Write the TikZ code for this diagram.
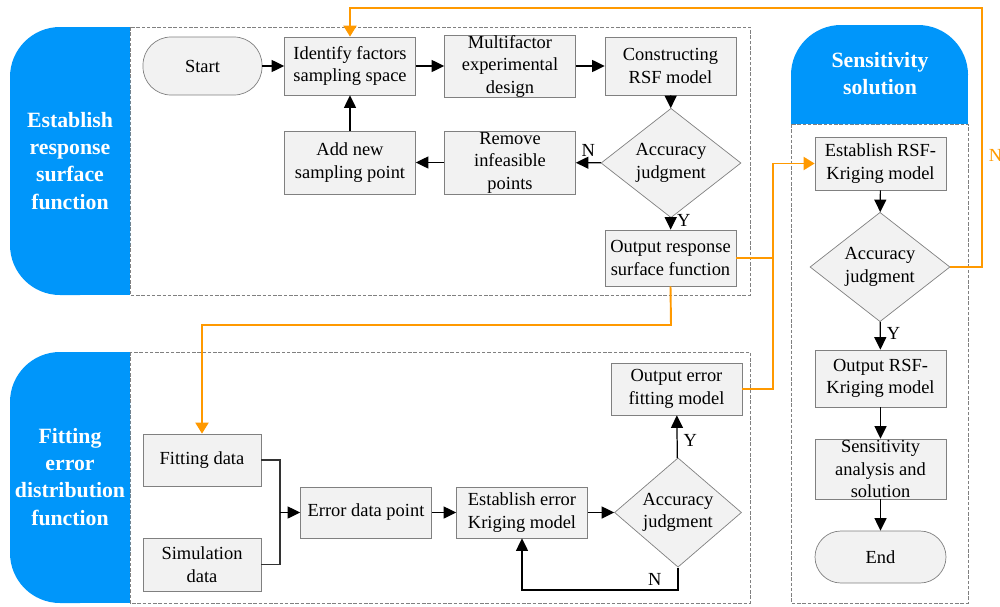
\documentclass[tikz,border=0pt]{standalone}
\usepackage{fontspec}
\setmainfont{Liberation Serif}
\usepackage{xcolor}
\usetikzlibrary{calc, arrows.meta, positioning, shapes}

\definecolor{tabblue}{RGB}{0,150,250}
\definecolor{lineorange}{RGB}{255,153,0}
\definecolor{boxfill}{RGB}{242,242,242}

\begin{document}
\begin{tikzpicture}[x=0.2mm, y=-0.2mm, >=latex, font=\fontsize{10.5}{12.8}\selectfont]
		\tikzstyle{box} = [draw=gray, fill=boxfill, rectangle, align=center, inner sep=0pt, minimum width=26.2mm, minimum height=11.6mm]
		\tikzstyle{term} = [box, rounded corners=5.2mm]
		\tikzstyle{judge} = [draw=gray, fill=boxfill, diamond, align=center, inner sep=0pt, minimum width=28mm, minimum height=17.6mm]
		\tikzstyle{panel} = [draw=gray, dash pattern=on 2pt off 1pt, line width=0.4pt]
		\tikzstyle{tabtext} = [text=white, align=center, font=\fontsize{12.4}{15.4}\selectfont\bfseries]
		\tikzstyle{arrow} = [line width=0.7pt, ->, >={Triangle[length=2.5mm, width=2.4mm]}]
		\tikzstyle{link} = [line width=0.7pt, draw=black!80]
		\tikzstyle{flow} = [lineorange, line width=1.1pt]
		\tikzstyle{flowarrow} = [flow, ->, >={Triangle[length=2.2mm, width=2.6mm]}]
		
		\useasboundingbox (0, 0) rectangle (1000, 607);
		
		% panels and tabs
		\draw[panel] (130, 27) rectangle (750, 295);
		\draw[panel] (130, 352) rectangle (750, 603);
		\draw[panel] (791, 124) rectangle (968, 603);
		\fill[tabblue, rounded corners=10mm] (10, 27) rectangle (130, 295);
		\fill[tabblue] (70, 27) rectangle (130, 295);
		\fill[tabblue, rounded corners=10mm] (10, 352) rectangle (130, 603);
		\fill[tabblue] (70, 352) rectangle (130, 603);
		\fill[tabblue, rounded corners=10mm] (791, 25) rectangle (968, 124);
		\fill[tabblue] (791, 75) rectangle (968, 124);
		\node[tabtext] at (70, 161) (tab1) {Establish\\response\\surface\\function};
		\node[tabtext] at (70, 477) (tab2) {Fitting\\error\\distribution\\function};
		\node[tabtext] at (880, 74) (tab3) {Sensitivity\\solution};
		
		% response surface
		\node[term, minimum width=23.8mm, rounded corners=5.6mm] at (202.5, 66) (start) {Start};
		\node[box] at (350, 66) (ident) {Identify factors\\sampling space};
		\node[box] at (510, 66) (multi) {Multifactor\\experimental\\design};
		\node[box] at (670.5, 66) (rsf) {Constructing\\RSF model};
		\node[judge] at (671, 163) (acc1) {Accuracy\\judgment};
		\node[box, minimum height=12.6mm] at (510, 162.5) (remove) {Remove\\infeasible\\points};
		\node[box, minimum height=12.6mm] at (350, 162.5) (addnew) {Add new\\sampling point};
		\node[box, minimum height=11.2mm] at (670.5, 258) (outresp) {Output response\\surface function};
		
		% sensitivity
		\node[box, minimum height=10.6mm] at (880.5, 163.5) (estrsf) {Establish RSF-\\Kriging model};
		\node[judge, minimum height=17.2mm] at (880, 267) (acc2) {Accuracy\\judgment};
		\node[box, minimum height=11.4mm] at (880.5, 378.5) (outrsf) {Output RSF-\\Kriging model};
		\node[box, minimum height=12mm] at (880.5, 469) (sens) {Sensitivity\\analysis and\\solution};
		\node[term, minimum height=10.4mm] at (880.5, 557) (end) {End};
		
		% error distribution
		\node[box, minimum width=23.6mm, minimum height=10.4mm] at (202, 460) (fit) {Fitting data};
		\node[box, minimum width=23.6mm, minimum height=10.6mm] at (202, 564.5) (sim) {Simulation\\data};
		\node[box, minimum height=10.2mm] at (366, 512.5) (errpt) {Error data point};
		\node[box, minimum height=10.2mm] at (522, 512.5) (esterr) {Establish error\\Kriging model};
		\node[judge, minimum width=25.4mm, minimum height=17.8mm] at (678, 512.5) (acc3) {Accuracy\\judgment};
		\node[box, minimum height=10.4mm] at (676.5, 389) (outerr) {Output error\\fitting model};
		
		\coordinate (ctop) at (982, 8);
		\coordinate (cmid) at (773, 389);
		\coordinate (cbend) at (671, 325);
		\coordinate (cfork) at (280, 512.5);
		\coordinate (cloop) at (600, 590);
		
		\path[arrow]
		(start) 	edge 								(ident)
		(ident) 	edge 								(multi)
		(multi) 	edge 								(rsf)
		(rsf) 		edge 								(acc1)
		(acc1) 		edge 	node[above] 			{N}	(remove)
		(remove) 	edge 								(addnew)
		(addnew) 	edge 								(ident)
		(acc1) 		edge 	node[right, pos=0.26] 	{Y}	(outresp)
		(estrsf) 	edge 								(acc2)
		(acc2) 		edge 	node[right, pos=0.4] 	{Y}	(outrsf)
		(outrsf) 	edge 								(sens)
		(sens) 		edge 								(end)
		(errpt) 	edge 								(esterr)
		(esterr) 	edge 								(acc3)
		(acc3) 		edge 	node[right, pos=0.42] 	{Y}	(outerr);
		
		\draw[link] (fit.east) -| (cfork);
		\draw[link] (sim.east) -| (cfork);
		\draw[arrow] (cfork) -- (errpt.west);
		\draw[arrow] (acc3.south) -- node[left, pos=0.55, xshift=-2mm] {N} (acc3.south |- cloop) -| (esterr.south);
		
		\draw[flowarrow] (acc2.east) -| node[right, pos=0.716] {N} (ctop) -| (ident.north);
		\draw[flow] (outresp.east) -- (outresp.east -| cmid);
		\draw[flowarrow] (outerr.east) -- (cmid) |- (estrsf.west);
		\draw[flowarrow] (outresp.south) -- (cbend) -| (fit.north);
	\end{tikzpicture}
\end{document}
